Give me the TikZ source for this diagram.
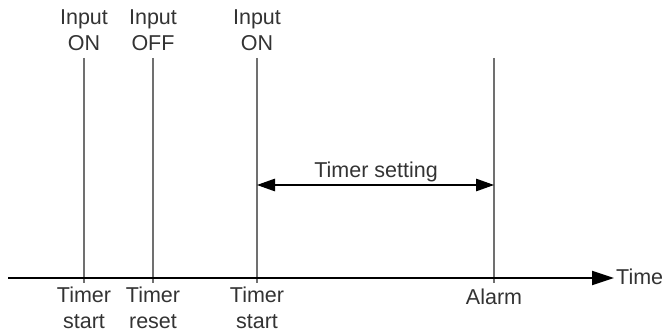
\documentclass[tikz,border=0pt]{standalone}
\usepackage{fontspec}
\setmainfont{Liberation Sans}
\usetikzlibrary{arrows.meta}
\definecolor{txt}{HTML}{333333}
\definecolor{vline}{HTML}{707070}
\begin{document}
\begin{tikzpicture}[x=1pt,y=-1pt,
  lbl/.style={text=txt,font=\fontsize{21.5}{26}\selectfont,align=center,inner sep=0pt},
  eventline/.style={draw=vline,line width=1.2pt},
  axis/.style={draw=black,line width=2pt,-{Triangle[length=22pt,width=14pt]}},
  span/.style={draw=black,line width=1.2pt,{Triangle[length=18pt,width=12.5pt]}-{Triangle[length=18pt,width=12.5pt]}}]
\useasboundingbox (0,0) rectangle (664,334);
% event lines
\foreach \n/\x in {a/84,b/153,c/257,d/494}{
  \coordinate (\n t) at (\x,58);
  \coordinate (\n b) at (\x,283);
  \coordinate (\n m) at (\x,185);
}
\foreach \n in {a,b,c,d}{ \draw[eventline] (\n t) -- (\n b); }
% axis
\coordinate (ax0) at (8,278);
\coordinate (ax1) at (614,278);
\draw[axis] (ax0) -- (ax1);
\node[lbl,anchor=west] (time) at (616,277) {Time};
% top labels (base = baseline of last line)
\node[lbl,anchor=base] (in1) at (84,51) {Input\\ON};
\node[lbl,anchor=base] (in2) at (153,51) {Input\\OFF};
\node[lbl,anchor=base] (in3) at (257,51) {Input\\ON};
% bottom labels
\node[lbl,anchor=base] (ts1) at (84,328) {Timer\\start};
\node[lbl,anchor=base] (tr) at (153,328) {Timer\\reset};
\node[lbl,anchor=base] (ts2) at (257,328) {Timer\\start};
\node[lbl,anchor=base] (al) at (494,304) {Alarm};
% timer setting
\draw[span] (cm) -- (dm);
\node[lbl,anchor=base] (tset) at (376,177) {Timer setting};
\end{tikzpicture}
\end{document}
